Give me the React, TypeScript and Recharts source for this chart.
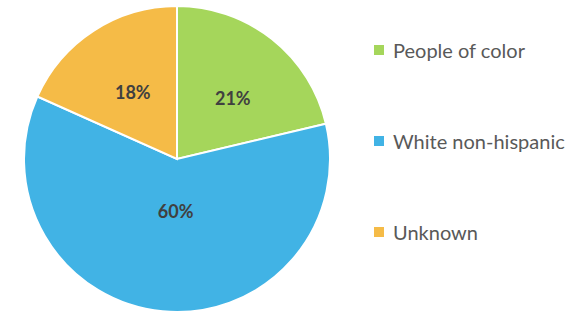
import { PieChart, Pie, Cell, Legend } from 'recharts'

const groups = ['People of color', 'White non-hispanic', 'Unknown']
const shares = [21.3, 60.4, 18.3]
const labels = ['21%', '60%', '18%']
const colors = ['#A5D65B', '#41B3E5', '#F5BB47']

const data = groups.map((name, i) => ({ name, value: shares[i], label: labels[i] }))

const RAD = Math.PI / 180

// put the label near the slice centroid, like Excel's best fit
const renderLabel = (props: any) => {
  const { cx, cy, midAngle, outerRadius, percent, index } = props
  const theta = percent * 2 * Math.PI
  const dist = ((4 * outerRadius * Math.sin(theta / 2)) / (3 * theta)) * 0.9
  const x = cx + dist * Math.cos(-midAngle * RAD) + 3
  const y = cy + dist * Math.sin(-midAngle * RAD) + 6
  return (
    <text
      x={x}
      y={y}
      textAnchor='middle'
      dominantBaseline='central'
      fill='#404040'
      fontSize={18}
      fontWeight='bold'
      fontFamily='Lato, sans-serif'
    >
      {data[index].label}
    </text>
  )
}

const LegendBox = () => (
  <div style={{ fontFamily: 'Lato, sans-serif' }}>
    {data.map((d, i) => (
      <div
        key={d.name}
        style={{
          display: 'flex',
          alignItems: 'center',
          height: 24,
          marginBottom: i < data.length - 1 ? 67 : 0,
          color: '#595959',
          fontSize: 20
        }}
      >
        <span
          style={{
            width: 10,
            height: 10,
            background: colors[i],
            marginRight: 9,
            display: 'inline-block'
          }}
        />
        {d.name}
      </div>
    ))}
  </div>
)

export default function App() {
  return (
    <div style={{ position: 'absolute', left: 0, top: 0, background: '#fff' }}>
      <PieChart
        width={584}
        height={313}
        margin={{ top: 0, right: 0, bottom: 0, left: 0 }}
      >
        <Pie
          data={data}
          dataKey='value'
          nameKey='name'
          cx={177}
          cy={159}
          outerRadius={153}
          startAngle={90}
          endAngle={-270}
          stroke='#fff'
          strokeWidth={2}
          label={renderLabel}
          labelLine={false}
          isAnimationActive={false}
        >
          {data.map((d, i) => (
            <Cell key={d.name} fill={colors[i]} />
          ))}
        </Pie>
        <Legend
          content={<LegendBox />}
          wrapperStyle={{ left: 374, top: 38, width: 210 }}
        />
      </PieChart>
    </div>
  )
}
